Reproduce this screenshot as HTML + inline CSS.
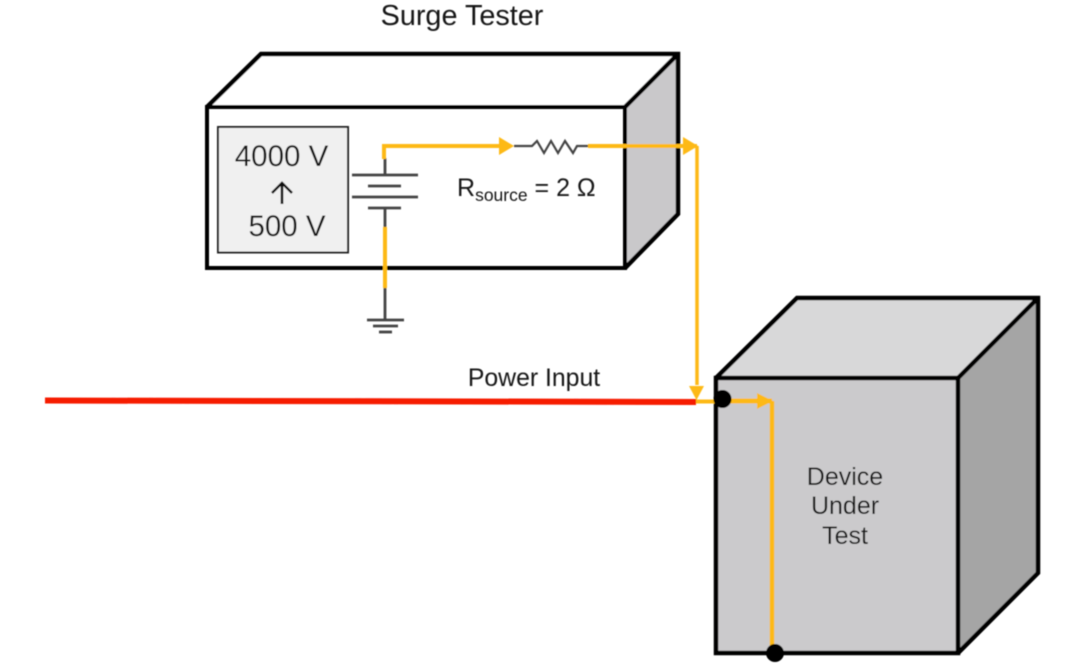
<!DOCTYPE html>
<html>
<head>
<meta charset="utf-8">
<style>
html,body{margin:0;padding:0;background:#fff;width:1080px;height:663px;overflow:hidden}
svg{display:block}
text{font-family:"Liberation Sans",sans-serif;fill:#161616}
</style>
</head>
<body>
<svg width="1080" height="663" viewBox="0 0 1080 663" xmlns="http://www.w3.org/2000/svg">
<defs><filter id="b" x="-5%" y="-5%" width="110%" height="110%"><feGaussianBlur stdDeviation="0.6"/></filter></defs>
<g filter="url(#b)">
<!-- Surge tester box -->
<polygon points="625,107 678,54 678,214 625,268" fill="#c9c8ca"/>
<polygon points="207,107 261,54 678,54 625,107" fill="#fff"/>
<g fill="none" stroke="#000" stroke-linejoin="miter">
<rect x="207" y="107" width="418" height="161" stroke-width="4"/>
<path d="M207,107 L261,54 L678,54 L678,214 L625,268 M625,107 L678,54" stroke-width="4.500"/>
</g>
<rect x="218" y="127" width="130" height="125.500" fill="#f0f0f0" stroke="#222" stroke-width="2"/>
<text x="281.500" y="166" font-size="29.500" text-anchor="middle">4000 V</text>
<path d="M282,204 V183 M272,193 L282,183 L292,193" fill="none" stroke="#111" stroke-width="2.600"/>
<text x="287" y="236" font-size="29.500" text-anchor="middle">500 V</text>

<!-- Battery and ground -->
<g stroke="#444" stroke-width="2.800" fill="none">
<path d="M385,158 V175 M352,175 H418 M368,186 H401 M352,197 H418 M368,208 H401 M385,208 V320"/>
<path d="M367,320 H404 M373,326 H398" />
<path d="M379,332 H392"/>
<path d="M514,146 H532 L537,141 L544,153 L551,141 L558,153 L565,141 L573,153 L577,146 H588" stroke-width="2.200"/>
</g>
<text x="457" y="196" font-size="25">R<tspan font-size="17.500" dy="5">source</tspan><tspan dy="-5"> = 2 Ω</tspan></text>
<rect x="383" y="227" width="4" height="61" fill="#fdb913"/>

<!-- Device under test -->
<polygon points="716,378 797,298 1038,298 958,378" fill="#d8d8d9"/>
<polygon points="958,378 1038,298 1038,573 958,653" fill="#a5a5a5"/>
<rect x="716" y="378" width="242" height="275" fill="#cbcacc"/>
<g fill="none" stroke="#000" stroke-width="4.500" stroke-linejoin="miter">
<rect x="716" y="378" width="242" height="275"/>
<path d="M716,378 L797,298 L1038,298 L1038,573 L958,653 M958,378 L1038,298"/>
</g>
<text x="845" y="485" font-size="25" text-anchor="middle">Device</text>
<text x="845" y="514" font-size="25" text-anchor="middle">Under</text>
<text x="845" y="544" font-size="25" text-anchor="middle">Test</text>

<!-- Power input -->
<path d="M45,400.500 L696,402" stroke="#f61a06" stroke-width="6" fill="none"/>
<text x="534" y="386" font-size="24.800" text-anchor="middle">Power Input</text>

<!-- Surge path -->
<g fill="none" stroke="#fdb913" stroke-width="4">
<path d="M384,159 V146 H502"/>
<path d="M588,146 H697"/>
<path d="M697,146 V385" stroke-width="3.500"/>
<path d="M696,401.500 H723"/>
<path d="M723,401 H772" stroke-width="5"/>
<path d="M772,401 V650" stroke-width="4.500"/>
</g>
<g fill="#fdb913">
<polygon points="499,137 514,146 499,155"/>
<polygon points="683,137 698,146 683,155"/>
<polygon points="689,386 704,386 696.500,400"/>
<polygon points="757,393 773,401 757,409"/>
</g>
<circle cx="722.500" cy="399" r="9" fill="#000"/>
<circle cx="775" cy="653" r="9" fill="#000"/>

<text x="462" y="25" font-size="28.800" text-anchor="middle">Surge Tester</text>
</g>
</svg>
</body>
</html>
